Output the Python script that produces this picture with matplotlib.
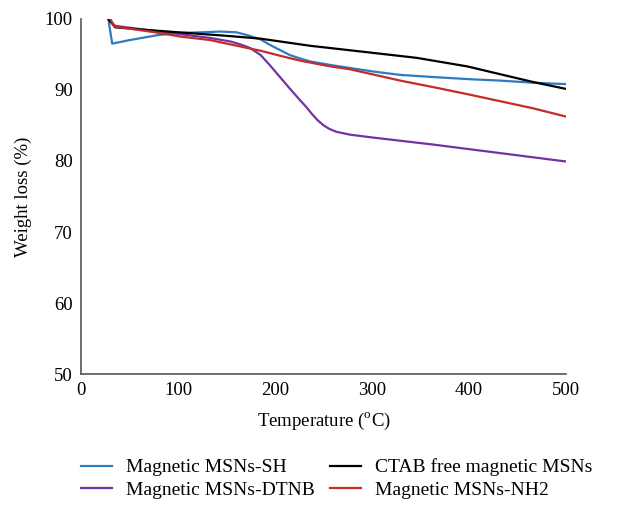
import matplotlib
matplotlib.use("Agg")
import matplotlib.pyplot as plt

plt.rcParams['font.family'] = ['Liberation Serif', 'DejaVu Serif']
plt.rcParams['mathtext.fontset'] = 'custom'
plt.rcParams['mathtext.rm'] = 'Liberation Serif'

# TGA curves (temperature in C, weight in %)
sh_temp = [28, 32, 50, 79, 102, 125, 143, 160, 171, 185, 195, 205, 215, 226, 236, 257, 300, 329, 363, 400, 432, 466, 501]
sh_weight = [100, 96.5, 97.0, 97.7, 98.0, 98.1, 98.2, 98.1, 97.7, 97.1, 96.3, 95.6, 94.9, 94.4, 94.0, 93.5, 92.6, 92.1, 91.8, 91.5, 91.3, 91.0, 90.8]

ctab_temp = [28, 35, 60, 100, 150, 185, 236, 288, 346, 398, 432, 466, 501]
ctab_weight = [100, 98.8, 98.5, 98.1, 97.6, 97.2, 96.2, 95.4, 94.5, 93.3, 92.2, 91.1, 90.1]

dtnb_temp = [28, 35, 81, 133, 154, 164, 174, 185, 195, 205, 215, 224, 232, 238, 244, 250, 256, 263, 270, 277, 300, 363, 432, 501]
dtnb_weight = [100, 99.0, 98.2, 97.3, 96.8, 96.4, 95.9, 94.9, 93.4, 91.8, 90.2, 88.8, 87.6, 86.6, 85.7, 85.0, 84.5, 84.1, 83.9, 83.7, 83.3, 82.3, 81.1, 79.9]

nh2_temp = [30, 33, 35, 81, 102, 133, 171, 185, 205, 226, 257, 277, 329, 366, 398, 432, 466, 501]
nh2_weight = [100, 99.2, 98.9, 98.0, 97.5, 97.0, 95.9, 95.5, 94.8, 94.1, 93.3, 92.9, 91.3, 90.3, 89.4, 88.4, 87.4, 86.2]

labels = ["Magnetic MSNs-SH", "Magnetic MSNs-DTNB", "CTAB free magnetic MSNs", "Magnetic MSNs-NH2"]
colors = ['#2E7CC0', '#7134A3', '#000000', '#C42B2B']

fig = plt.figure(figsize=(6.29, 5.07), dpi=100)
ax = fig.add_axes([0.129, 0.262, 0.771, 0.701])

ax.plot(sh_temp, sh_weight, color=colors[0], lw=1.6, label=labels[0])
ax.plot(dtnb_temp, dtnb_weight, color=colors[1], lw=1.6, label=labels[1])
ax.plot(ctab_temp, ctab_weight, color=colors[2], lw=1.6, label=labels[2])
ax.plot(nh2_temp, nh2_weight, color=colors[3], lw=1.6, label=labels[3])

ax.set_xlim(0, 500)
ax.set_ylim(50, 100)
ax.set_xticks(range(0, 501, 100))
ax.set_yticks(range(50, 101, 10))
ax.tick_params(length=0, labelsize=13.5, pad=6)
for s in ['top', 'right']:
    ax.spines[s].set_visible(False)
for s in ['left', 'bottom']:
    ax.spines[s].set_color('#555555')
    ax.spines[s].set_linewidth(1.2)

ax.set_xlabel("Temperature ($^{\\mathrm{o}}$C)", fontsize=13.5, labelpad=8)
ax.set_ylabel("Weight loss (%)", fontsize=13.5, labelpad=9)

fig.legend(loc='center', bbox_to_anchor=(0.535, 0.056), ncol=2, frameon=False,
           fontsize=14, handlelength=1.6, handletextpad=0.7, columnspacing=0.8,
           labelspacing=0.25)

fig.savefig("out.png", dpi=100)
